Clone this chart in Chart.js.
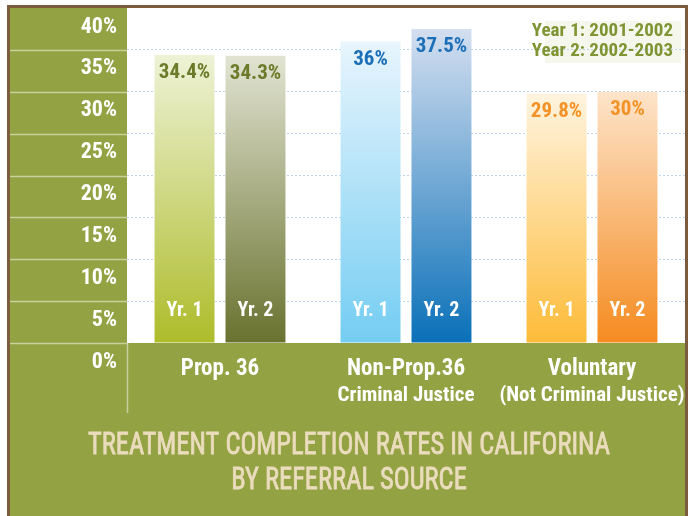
<!DOCTYPE html>
<html>
<head>
<meta charset="utf-8">
<script src="https://cdn.jsdelivr.net/npm/chart.js@4.4.0/dist/chart.umd.min.js"></script>
<style>
  html, body { margin: 0; padding: 0; background: #fff; }
  #wrap { width: 690px; height: 516px; }
</style>
</head>
<body>
<div id="wrap"><canvas id="rateChart" width="690" height="516"></canvas></div>
<script>
var categories = ["Prop. 36", "Non-Prop.36", "Voluntary"];
var subLabels = ["", "Criminal Justice", "(Not Criminal Justice)"];
var year1 = [34.4, 36, 29.8];
var year2 = [34.3, 37.5, 30];
var valueText1 = ["34.4%", "36%", "29.8%"];
var valueText2 = ["34.3%", "37.5%", "30%"];
var barText = ["Yr. 1", "Yr. 2"];
var legendLines = ["Year 1: 2001-2002", "Year 2: 2002-2003"];
var titleLines = ["TREATMENT COMPLETION RATES IN CALIFORINA", "BY REFERRAL SOURCE"];

// colours
var topColors1 = ["#eef2d6", "#e8f5fd", "#fff4e0"];
var bottomColors1 = ["#adbc2a", "#74cdf2", "#fdbb38"];
var topColors2 = ["#e2e4d2", "#d4dff0", "#fde4ca"];
var bottomColors2 = ["#69722f", "#0a70b8", "#f58b20"];
var valueColors = ["#6b7b2a", "#1c6fb7", "#f39226"];
var green = "#93a243";
var brown = "#7c5c3c";
var narrow = "'Roboto Condensed', 'DejaVu Sans Condensed', sans-serif";

function barGradient(c, tops, bottoms) {
    var chart = c.chart;
    var area = chart.chartArea;
    if (c.dataIndex === undefined) return bottoms[0];
    if (!area || !chart.scales.y) return bottoms[c.dataIndex];
    var yTop = chart.scales.y.getPixelForValue(c.raw);
    var g = chart.ctx.createLinearGradient(0, yTop, 0, area.bottom);
    g.addColorStop(0, tops[c.dataIndex]);
    g.addColorStop(1, bottoms[c.dataIndex]);
    return g;
}

var backdrop = {
    id: 'backdrop',
    beforeDraw: function (chart) {
        var ctx = chart.ctx, a = chart.chartArea, ys = chart.scales.y;
        ctx.save();
        ctx.fillStyle = "#fff";
        ctx.fillRect(0, 0, chart.width, chart.height);
        ctx.fillStyle = brown;
        ctx.fillRect(7, 5, 681, 520);
        ctx.fillStyle = green;
        ctx.fillRect(10, 8, 675, 520);
        ctx.fillStyle = "#fff";
        ctx.fillRect(a.left, a.top, a.right - a.left, a.bottom - a.top);
        // lines across the left band
        ctx.strokeStyle = "#c8d09c";
        ctx.lineWidth = 1.5;
        ys.ticks.forEach(function (t) {
            var y = Math.round(ys.getPixelForValue(t.value)) + 0.5;
            if (t.value === 40) return;
            ctx.beginPath();
            ctx.moveTo(10, y);
            ctx.lineTo(a.left, y);
            ctx.stroke();
        });
        ctx.beginPath();
        ctx.moveTo(a.left + 0.5, a.bottom);
        ctx.lineTo(a.left + 0.5, a.bottom + 70);
        ctx.stroke();
        // faint legend box
        ctx.fillStyle = "#f5f7ec";
        ctx.fillRect(545, 21, 136, 42);
        ctx.restore();
    },
    afterDatasetsDraw: function (chart) {
        var ctx = chart.ctx, a = chart.chartArea, xs = chart.scales.x;
        var texts = [valueText1, valueText2];
        ctx.save();
        ctx.textAlign = "center";
        ctx.textBaseline = "middle";
        [0, 1].forEach(function (d) {
            var meta = chart.getDatasetMeta(d);
            meta.data.forEach(function (bar, i) {
                ctx.font = "bold 21px " + narrow;
                ctx.fillStyle = valueColors[i];
                ctx.fillText(texts[d][i], bar.x, bar.y + 18);
                ctx.font = "bold 20px " + narrow;
                ctx.fillStyle = "#fff";
                ctx.fillText(barText[d], bar.x, a.bottom - 32);
            });
        });
        // second line of category labels
        ctx.font = "bold 21px " + narrow;
        ctx.fillStyle = "#fff";
        subLabels.forEach(function (s, i) {
            if (s) ctx.fillText(s, xs.getPixelForValue(i), 396);
        });
        // legend
        ctx.textAlign = "right";
        ctx.font = "bold 19px " + narrow;
        ctx.fillStyle = "#7f9433";
        ctx.fillText(legendLines[0], 673, 31);
        ctx.fillText(legendLines[1], 673, 51);
        // title, squeezed to the width of the original lettering
        ctx.fillStyle = "#eadcbc";
        ctx.strokeStyle = "#eadcbc";
        ctx.lineWidth = 0.8;
        ctx.textAlign = "center";
        ctx.font = "31px " + narrow;
        var w = ctx.measureText(titleLines[0]).width;
        ctx.translate(349, 0);
        ctx.scale(522 / w, 1);
        titleLines.forEach(function (t, i) {
            ctx.fillText(t, 0, 446 + i * 35);
            ctx.strokeText(t, 0, 446 + i * 35);
        });
        ctx.restore();
    }
};

var chartElem = document.getElementById("rateChart");
var rateChart = new Chart(chartElem, {
    type: 'bar',
    data: {
        labels: categories,
        datasets: [
            {
                label: "Year 1",
                data: year1,
                backgroundColor: function (c) { return barGradient(c, topColors1, bottomColors1); },
                borderWidth: 0,
                categoryPercentage: 0.763,
                barPercentage: 0.845
            },
            {
                label: "Year 2",
                data: year2,
                backgroundColor: function (c) { return barGradient(c, topColors2, bottomColors2); },
                borderWidth: 0,
                categoryPercentage: 0.763,
                barPercentage: 0.845
            }
        ]
    },
    options: {
        responsive: false,
        animation: false,
        devicePixelRatio: 1,
        layout: { autoPadding: false, padding: { left: 10, top: 8, right: 5, bottom: 0 } },
        plugins: {
            legend: { display: false },
            tooltip: { enabled: false },
            title: { display: false }
        },
        scales: {
            x: {
                grid: { display: false, drawTicks: false },
                border: { display: false },
                ticks: {
                    color: "#fff",
                    font: { family: narrow, size: 23, weight: 'bold' },
                    padding: 12
                },
                afterFit: function (s) {
                    s.height = 173;
                    s.paddingLeft = 0;
                    s.paddingRight = 0;
                }
            },
            y: {
                min: 0,
                max: 40,
                grid: {
                    drawTicks: false,
                    lineWidth: 1,
                    color: function (c) {
                        return (c.tick && (c.tick.value === 0 || c.tick.value === 40)) ? "rgba(0,0,0,0)" : "#bcd5ee";
                    }
                },
                border: { display: false, dash: [2, 2] },
                ticks: {
                    stepSize: 5,
                    autoSkip: false,
                    color: "#fff",
                    font: { family: narrow, size: 22, weight: 'bold' },
                    padding: 10,
                    labelOffset: 19,
                    callback: function (v) { return v + "%"; }
                },
                afterFit: function (s) {
                    s.width = 117;
                    s.paddingTop = 0;
                    s.paddingBottom = 0;
                }
            }
        }
    },
    plugins: [backdrop]
});
</script>
</body>
</html>
